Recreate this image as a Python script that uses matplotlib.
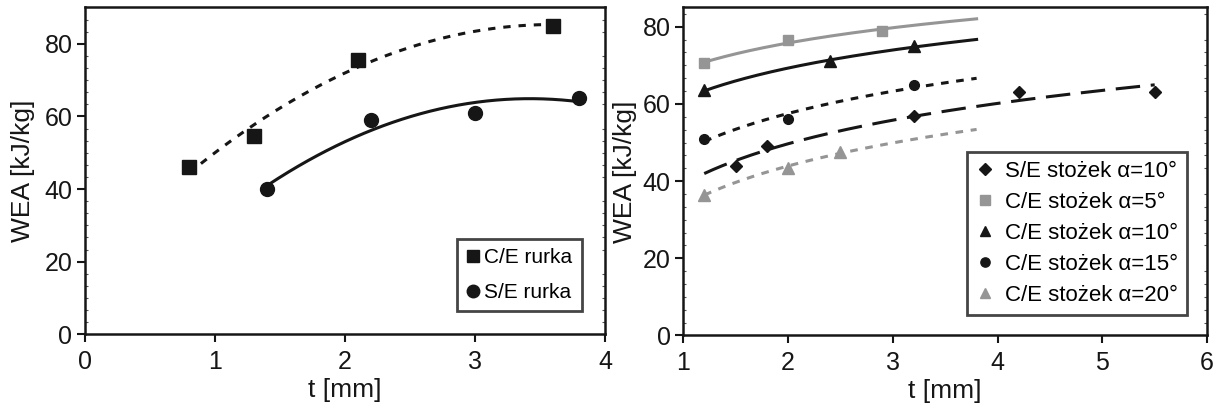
import numpy as np
import matplotlib
matplotlib.use("Agg")
import matplotlib.pyplot as plt
from matplotlib.ticker import MultipleLocator, AutoMinorLocator

plt.rcParams['font.family'] = ['Liberation Sans', 'DejaVu Sans']

INK = '#161616'
GRAY = '#959595'

# ---- left panel: tubes ----
ce_tube_t = [0.8, 1.3, 2.1, 3.6]
ce_tube_wea = [46, 54.5, 75.5, 85]
se_tube_t = [1.4, 2.2, 3.0, 3.8]
se_tube_wea = [40, 59, 61, 65]

# ---- right panel: cones ----
se_cone10_t = [1.5, 1.8, 3.2, 4.2, 5.5]
se_cone10_wea = [44, 49, 57, 63, 63]
ce_cone5_t = [1.2, 2.0, 2.9]
ce_cone5_wea = [70.5, 76.5, 79]
ce_cone10_t = [1.2, 2.4, 3.2]
ce_cone10_wea = [63.5, 71, 75]
ce_cone15_t = [1.2, 2.0, 3.2]
ce_cone15_wea = [51, 56, 65]
ce_cone20_t = [1.2, 2.0, 2.5]
ce_cone20_wea = [36.5, 43.5, 47.5]

# trend-line spans (t range over which each fitted curve is drawn)
cone_span = (1.2, 3.8)
se_cone_span = (1.2, 5.5)

fig = plt.figure(figsize=(12.21, 4.07), dpi=100)
ax1 = fig.add_axes([0.0696, 0.1786, 0.426, 0.803])
ax2 = fig.add_axes([0.5596, 0.1757, 0.429, 0.806])


def poly_trend(ax, x, y, ls, color, lw=2.2, deg=2):
    c = np.polyfit(x, y, deg)
    xs = np.linspace(min(x), max(x), 200)
    ax.plot(xs, np.polyval(c, xs), ls=ls, color=color, lw=lw, zorder=2)


def log_trend(ax, x, y, span, ls, color, lw=2.2):
    b, a = np.polyfit(np.log(x), y, 1)
    xs = np.linspace(span[0], span[1], 200)
    ax.plot(xs, a + b * np.log(xs), ls=ls, color=color, lw=lw, zorder=2)


# left panel
poly_trend(ax1, ce_tube_t, ce_tube_wea, (0, (2.4, 2.6)), INK)
poly_trend(ax1, se_tube_t, se_tube_wea, '-', INK)
ax1.plot(ce_tube_t, ce_tube_wea, 's', color=INK, ms=9.5, ls='none',
         label='C/E rurka', zorder=3)
ax1.plot(se_tube_t, se_tube_wea, 'o', color=INK, ms=10, ls='none',
         label='S/E rurka', zorder=3)
ax1.set_xlim(0, 4)
ax1.set_ylim(0, 90)
ax1.xaxis.set_major_locator(MultipleLocator(1))
ax1.yaxis.set_major_locator(MultipleLocator(20))

# right panel
log_trend(ax2, se_cone10_t, se_cone10_wea, se_cone_span, (0, (8, 3.5)), INK)
log_trend(ax2, ce_cone5_t, ce_cone5_wea, cone_span, '-', GRAY)
log_trend(ax2, ce_cone10_t, ce_cone10_wea, cone_span, '-', INK)
log_trend(ax2, ce_cone15_t, ce_cone15_wea, cone_span, (0, (2.5, 2.5)), INK)
log_trend(ax2, ce_cone20_t, ce_cone20_wea, cone_span, (0, (2.5, 2.5)), GRAY)

ax2.plot(se_cone10_t, se_cone10_wea, 'D', color=INK, ms=6, ls='none',
         label='S/E stożek α=10°', zorder=3)
ax2.plot(ce_cone5_t, ce_cone5_wea, 's', color=GRAY, ms=7, ls='none',
         label='C/E stożek α=5°', zorder=3)
ax2.plot(ce_cone10_t, ce_cone10_wea, '^', color=INK, ms=8, ls='none',
         label='C/E stożek α=10°', zorder=3)
ax2.plot(ce_cone15_t, ce_cone15_wea, 'o', color=INK, ms=7, ls='none',
         label='C/E stożek α=15°', zorder=3)
ax2.plot(ce_cone20_t, ce_cone20_wea, '^', color=GRAY, ms=8, ls='none',
         label='C/E stożek α=20°', zorder=3)
ax2.set_xlim(1, 6)
ax2.set_ylim(0, 85)
ax2.xaxis.set_major_locator(MultipleLocator(1))
ax2.yaxis.set_major_locator(MultipleLocator(20))

for ax, ypad in ((ax1, 6.5), (ax2, 4)):
    for s in ax.spines.values():
        s.set_linewidth(1.8)
        s.set_color(INK)
    ax.tick_params(which='major', direction='out', length=6, width=1.5,
                   color=INK, labelsize=18, labelcolor=INK,
                   top=False, right=False)
    ax.tick_params(axis='x', which='major', pad=5)
    ax.tick_params(axis='y', which='major', pad=3)
    ax.yaxis.set_minor_locator(AutoMinorLocator(6))
    ax.tick_params(axis='y', which='minor', direction='in', length=2.5,
                   width=0.8, color='#555555', left=True, right=True)
    ax.set_xlabel('t [mm]', fontsize=19, color=INK, labelpad=3)
    ax.set_ylabel('WEA [kJ/kg]', fontsize=19, color=INK, labelpad=ypad)

leg1 = ax1.legend(loc='lower right', bbox_to_anchor=(0.955, 0.07),
                  fontsize=15, frameon=True, fancybox=False,
                  handlelength=0.6, handletextpad=0.25, labelspacing=0.75,
                  borderpad=0.45, borderaxespad=0, markerscale=0.9)
leg1.get_frame().set_edgecolor(INK)
leg1.get_frame().set_linewidth(2.0)

leg2 = ax2.legend(loc='lower right', bbox_to_anchor=(0.962, 0.063),
                  fontsize=16, frameon=True, fancybox=False,
                  handlelength=0.8, handletextpad=0.5, labelspacing=0.45,
                  borderpad=0.4, borderaxespad=0, markerscale=0.95)
leg2.get_frame().set_edgecolor(INK)
leg2.get_frame().set_linewidth(2.0)

fig.savefig('out.png', dpi=100)
